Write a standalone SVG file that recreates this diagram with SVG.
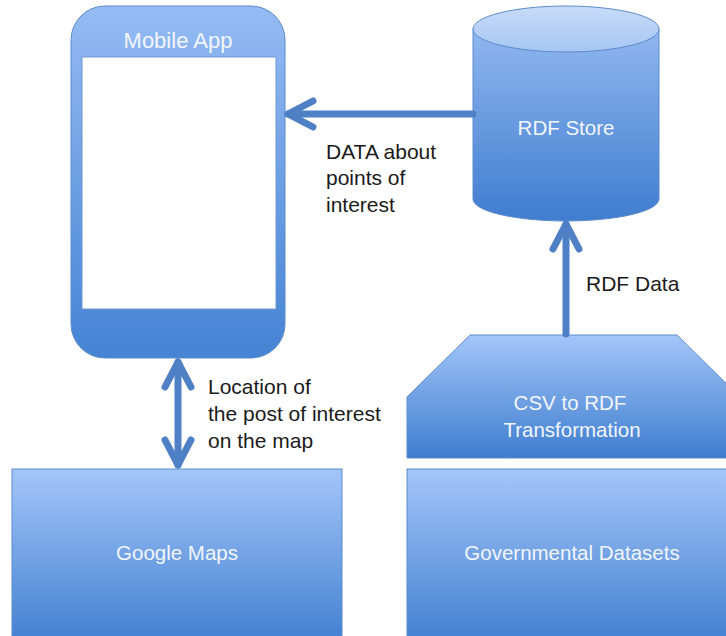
<svg xmlns="http://www.w3.org/2000/svg" width="726" height="636" viewBox="0 0 726 636">
<defs>
<linearGradient id="gBox" x1="0" y1="0" x2="0" y2="1">
<stop offset="0" stop-color="#a3c6f9"/><stop offset="1" stop-color="#3f7dcf"/>
</linearGradient>
<linearGradient id="gApp" x1="0" y1="0" x2="0" y2="1">
<stop offset="0" stop-color="#95bbf3"/><stop offset="1" stop-color="#4583d4"/>
</linearGradient>
<linearGradient id="gCyl" x1="0" y1="0" x2="0" y2="1">
<stop offset="0" stop-color="#90b7f0"/><stop offset="1" stop-color="#3f7dcf"/>
</linearGradient>
<linearGradient id="gTop" x1="0" y1="0" x2="0" y2="1">
<stop offset="0" stop-color="#c6dbf8"/><stop offset="1" stop-color="#a6c6f3"/>
</linearGradient>
<marker id="chev" viewBox="-32 -18 38 36" refX="0" refY="0" markerWidth="38" markerHeight="36" markerUnits="userSpaceOnUse" orient="auto-start-reverse" overflow="visible">
<path d="M-25 -13 L0 0 L-25 13" fill="none" stroke="#4f80c6" stroke-width="7" stroke-linecap="round" stroke-linejoin="round"/>
</marker>
</defs>
<style>
.node{stroke:#5d8bcb;stroke-width:1}
.in{font-family:"Liberation Sans",Arial,sans-serif;font-size:20.5px;fill:#f2f6fd;text-anchor:middle}
.lbl{font-family:"Liberation Sans",Arial,sans-serif;font-size:21px;fill:#1a1a1a}
.conn{stroke:#4f80c6;stroke-width:7;fill:none;stroke-linecap:round}
</style>
<rect width="726" height="636" fill="#ffffff"/>
<g id="mobile-app">
<rect class="node" x="71" y="6" width="214" height="352" rx="34" ry="34" fill="url(#gApp)"/>
<rect x="82" y="57" width="194" height="252" fill="#ffffff" stroke="#6f98d2" stroke-width="1"/>
<text class="in" x="178" y="48" style="font-size:22px">Mobile App</text>
</g>
<g id="rdf-store">
<path class="node" d="M473 29 L473 199 A93 22 0 0 0 659 199 L659 29 Z" fill="url(#gCyl)"/>
<ellipse class="node" cx="566" cy="29" rx="93" ry="23" fill="url(#gTop)"/>
<text class="in" x="566" y="135">RDF Store</text>
</g>
<g id="csv-to-rdf">
<path class="node" d="M470 335 L677 335 L740 397 L740 458 L407 458 L407 397 Z" fill="url(#gBox)"/>
<text class="in" x="570" y="410">CSV to RDF</text>
<text class="in" x="572" y="437">Transformation</text>
</g>
<g id="google-maps">
<rect class="node" x="12" y="469" width="330" height="180" fill="url(#gBox)"/>
<text class="in" x="177" y="560">Google Maps</text>
</g>
<g id="governmental-datasets">
<rect class="node" x="407" y="469" width="330" height="180" fill="url(#gBox)"/>
<text class="in" x="572" y="560">Governmental Datasets</text>
</g>
<g id="connectors">
<line class="conn" x1="473" y1="114" x2="288" y2="114" marker-end="url(#chev)"/>
<line class="conn" x1="566" y1="334" x2="566" y2="224" marker-end="url(#chev)"/>
<line class="conn" x1="178" y1="465" x2="178" y2="362" marker-start="url(#chev)" marker-end="url(#chev)"/>
<text class="lbl" x="326" y="159">DATA about</text>
<text class="lbl" x="326" y="185">points of</text>
<text class="lbl" x="326" y="212">interest</text>
<text class="lbl" x="586" y="291">RDF Data</text>
<text class="lbl" x="208" y="394">Location of</text>
<text class="lbl" x="208" y="421">the post of interest</text>
<text class="lbl" x="208" y="448">on the map</text>
</g>
</svg>
